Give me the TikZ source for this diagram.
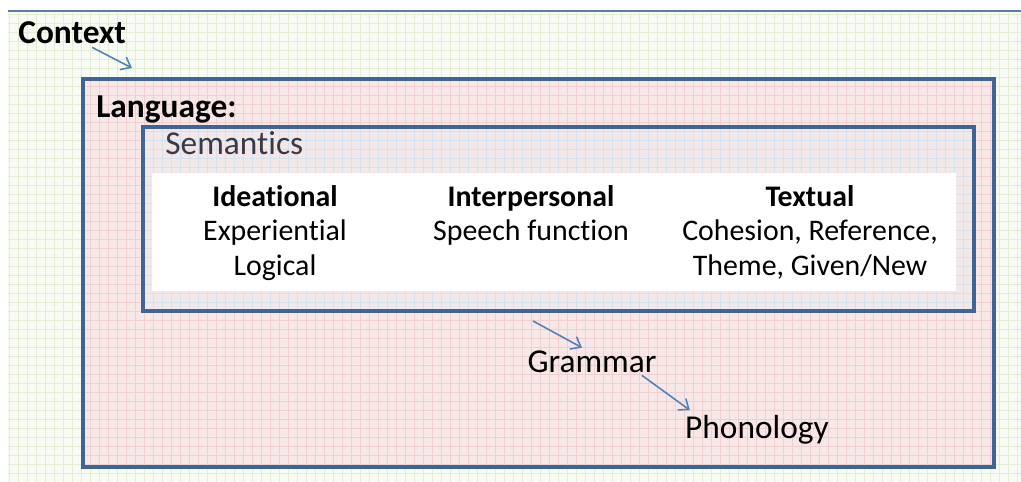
\documentclass[tikz,border=0pt]{standalone}
\usepackage{fontspec}
\setmainfont{Carlito}[Ligatures=NoCommon]
\usepackage{xcolor}
\usetikzlibrary{arrows.meta,positioning}

\definecolor{boxblue}{HTML}{3F6497}
\definecolor{arrowblue}{HTML}{4F81BD}
\definecolor{paper}{HTML}{F8FBF3}
\definecolor{papergrid}{HTML}{E3ECD5}
\definecolor{langfill}{HTML}{F7E7E7}
\definecolor{langgrid}{HTML}{EFD0D0}
\definecolor{semfill}{HTML}{F2E8EA}
\definecolor{semgrid}{HTML}{D3E2EC}
\definecolor{semtext}{HTML}{3A3A46}

\begin{document}
\begin{tikzpicture}[x=0.02cm,y=0.02cm,
	frame/.style={draw=boxblue,line width=1.9pt},
	arr/.style={-{Straight Barb[length=5pt,width=8pt]},draw=arrowblue,line width=0.9pt},
	big/.style={font=\fontsize{19}{22}\selectfont},
	col/.style={font=\fontsize{17}{19.6}\selectfont,align=center,anchor=north,inner sep=0pt}]
		\useasboundingbox (0,0) rectangle (1021,482);
		% paper with grid
		\fill[white] (0,0) rectangle (1021,482);
		\fill[paper] (8,0) rectangle (1021,471);
		\draw[papergrid,line width=0.3pt,step=9] (8,0) grid (1021,471);
		\draw[boxblue!85,line width=0.8pt] (8,471) -- (1021,471);
		% language box
		\fill[langfill] (83,15) rectangle (994,403);
		\draw[langgrid,line width=0.3pt,step=9] (83,15) grid (994,403);
		% semantics box
		\fill[semfill] (143,171) rectangle (974,355);
		\draw[semgrid,line width=0.3pt,step=9] (143,171) grid (974,355);
		\fill[white] (152,191) rectangle (956,309);
		\draw[frame] (83,15) rectangle (994,403);
		\draw[frame] (143,171) rectangle (974,355);
		% labels
		\node[big,font=\fontsize{19}{22}\selectfont\bfseries,anchor=west,inner sep=0pt] (context) at (18,449) {Context};
		\node[big,font=\fontsize{19}{22}\selectfont\bfseries,anchor=west,inner sep=0pt] (language) at (96,372) {Language:};
		\node[big,text=semtext,anchor=west,inner sep=0pt] (semantics) at (165,339) {Semantics};
		% metafunctions
		\node[col] (ideational) at (275,297) {\textbf{Ideational}\\Experiential\\Logical};
		\node[col] (interpersonal) at (531,297) {\textbf{Interpersonal}\\Speech function};
		\node[col] (textual) at (810,297) {\textbf{Textual}\\Cohesion, Reference,\\Theme, Given/New};
		% strata
		\node[big,inner sep=0pt] (grammar) at (592,120) {Grammar};
		\node[big,inner sep=0pt] (phonology) at (757,52) {Phonology};
		\coordinate (ctxtip) at (132,414);
		\coordinate (semout) at (533,161);
		\draw[arr] ([shift={(20,-3)}]context.south) -- (ctxtip);
		\draw[arr] (semout) -- ([shift={(-10,3)}]grammar.north);
		\draw[arr] ([shift={(-15,-2)}]grammar.south east) -- ([shift={(5,5)}]phonology.north west);
		\end{tikzpicture}
\end{document}
